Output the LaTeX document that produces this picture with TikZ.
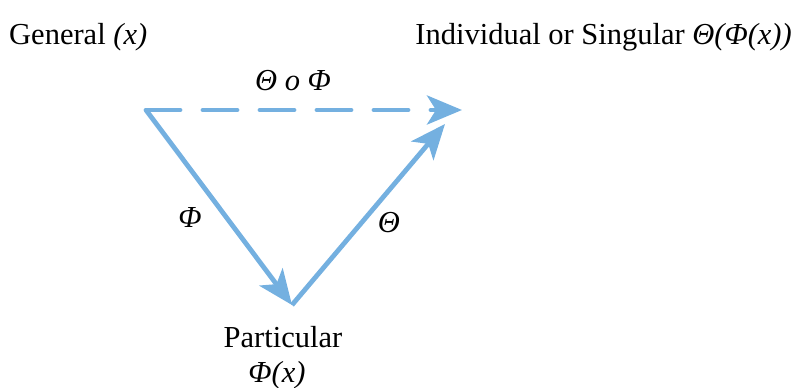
\documentclass[tikz,border=0pt]{standalone}
\usepackage{fontspec}
\setmainfont{Liberation Serif}
\usetikzlibrary{arrows.meta}
\definecolor{arrowblue}{HTML}{74B0E0}
\begin{document}
\begin{tikzpicture}[x=1pt,y=-1pt,
  lbl/.style={inner sep=0pt,font=\fontsize{30.5}{34}\selectfont},
  vec/.style={draw=arrowblue,line width=4.8pt,-{Stealth[length=35pt,width=29pt,inset=9pt]}},
  dashvec/.style={vec,line cap=round,dash pattern=on 34pt off 23pt}]
\useasboundingbox (0,0) rectangle (793,388);
\coordinate (A) at (146,110);
\coordinate (B) at (292,305);
\coordinate (C) at (445,124);
\coordinate (D) at (462,110);
\node[lbl,anchor=base west] (gen) at (9,44) {General \textit{(x)}};
\node[lbl,anchor=base east] (ind) at (792,44) {Individual or Singular \textit{Θ(Φ(x))}};
\node[lbl,anchor=base] (comp) at (293,90) {\textit{Θ o Φ}};
\node[lbl] (phi) at (190,218) {\textit{Φ}};
\node[lbl] (theta) at (389,223) {\textit{Θ}};
\node[lbl,anchor=base] (part) at (283,347) {Particular};
\node[lbl,anchor=base] (phix) at (277,382) {\textit{Φ(x)}};
\draw[dashvec] (A) -- (D);
\draw[vec] (A) -- (B);
\draw[vec] (B) -- (C);
\end{tikzpicture}
\end{document}
